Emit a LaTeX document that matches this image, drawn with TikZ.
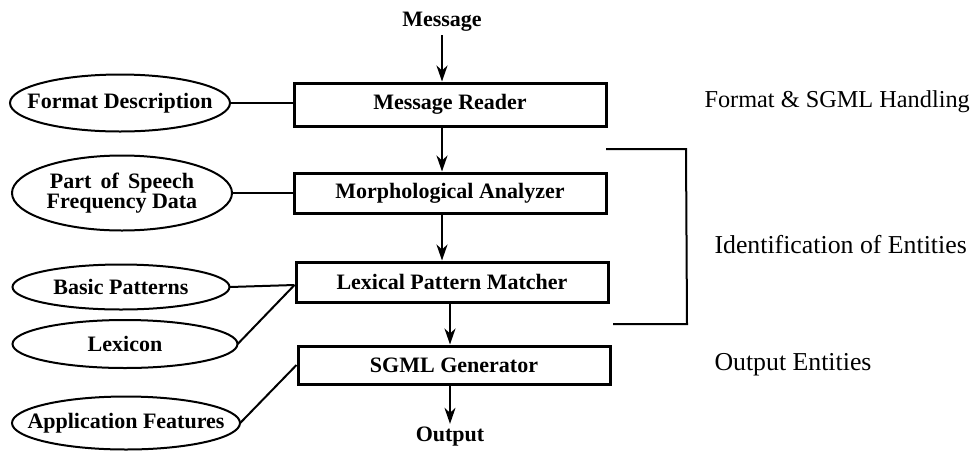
\documentclass[tikz,border=0pt]{standalone}
\usepackage{fontspec}
\setmainfont{Liberation Serif}
\usepackage{tikz}
\usetikzlibrary{positioning}
\usetikzlibrary{calc}
\usetikzlibrary{arrows.meta}

\begin{document}
\begin{tikzpicture}[x=1pt,y=-1pt,
	stage/.style={draw,line width=3pt,minimum width=312pt,minimum height=40pt,inner sep=0pt,font=\bfseries\fontsize{22}{22}\selectfont},
	source/.style={inner sep=0pt,align=center,font=\bfseries\fontsize{22}{20}\selectfont},
	note/.style={anchor=west,font=\fontsize{25.8}{26}\selectfont},
	flow/.style={line width=2pt,-{Stealth[length=16pt,width=11pt,inset=5pt]}},
	link/.style={line width=2pt}]
	\useasboundingbox (0,0) rectangle (972,451);
	% pipeline
	\node[font=\bfseries\fontsize{22}{22}\selectfont] (msg) at (442,22) {Message};
	\node[stage,minimum height=43pt] (reader) at (450,104.5) {Message Reader};
	\node[stage] (morph) at (450,193) {Morphological Analyzer};
	\node[stage] (lex) at (452,282) {Lexical Pattern Matcher};
	\node[stage,minimum height=38pt] (sgml) at (454,365) {SGML Generator};
	\node[font=\bfseries\fontsize{22}{22}\selectfont] (out) at (450,437) {Output};
	% resources (ellipses drawn below)
	\node[source,minimum width=220pt,minimum height=57pt] (fmt) at (120,103) {Format Description};
	\node[source,minimum width=220pt,minimum height=75pt] (pos) at (122,193) {Part \,of \,Speech\\Frequency Data};
	\node[source,minimum width=217pt,minimum height=45pt] (basic) at (121,287) {Basic Patterns};
	\node[source,minimum width=225pt,minimum height=48pt] (lexicon) at (125,344) {Lexicon};
	\node[source,minimum width=228pt,minimum height=53pt] (app) at (126,423) {Application Features};
	\foreach \n/\rx/\ry in {fmt/110/28.5,pos/110/37.5,basic/108.5/22.5,lexicon/112.5/24,app/114/26.5}
		\draw[link] (\n.center) ellipse [x radius=\rx pt,y radius=\ry pt];
	% phases
	\node[note,font=\fontsize{24.3}{26}\selectfont] (phfmt) at (701,102) {Format \& SGML Handling};
	\node[note] (phid) at (711,245) {Identification of Entities};
	\node[note] (phout) at (711,365) {Output Entities};
	\draw[flow] (msg) -- (msg |- reader.north);
	\draw[flow] (reader.south -| msg) -- (morph.north -| msg);
	\draw[flow] (morph.south -| msg) -- (lex.north -| msg);
	\draw[flow] (lex.south -| out) -- (sgml.north -| out);
	\draw[flow] (sgml.south -| out) -- (out);
	\draw[link] (fmt.east) -- (fmt.east -| reader.west);
	\draw[link] (pos.east) -- (pos.east -| morph.west);
	\coordinate (lexin) at ($(lex.west)+(0,3)$);
	\draw[link] (basic.east) -- (lexin);
	\draw[link] (lexicon.east) -- (lexin);
	\draw[link] (app.east) -- (sgml.west);
	\draw[link] (606,149) -- (686,149) -- (687,324) -- (613,324);
\end{tikzpicture}
\end{document}
